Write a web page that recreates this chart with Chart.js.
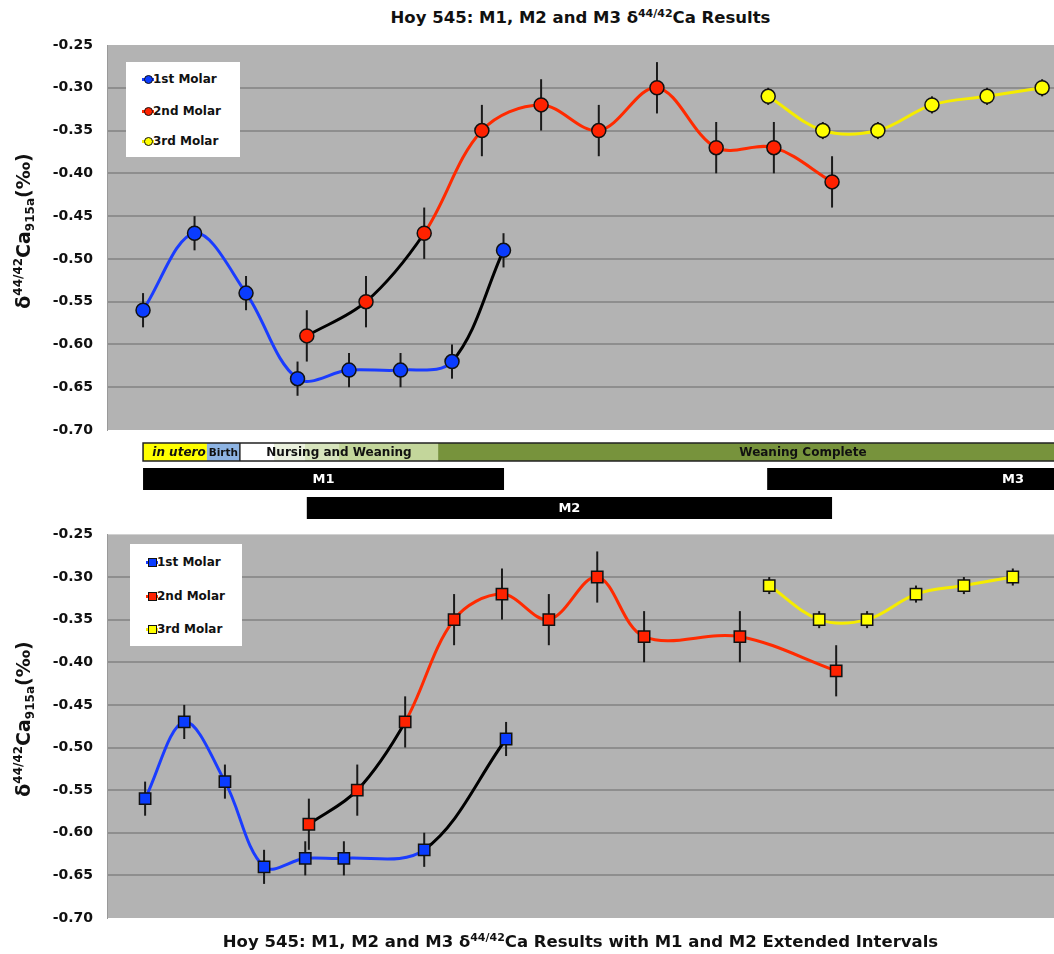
<!DOCTYPE html>
<html>
<head>
<meta charset="utf-8">
<script src="https://cdn.jsdelivr.net/npm/chart.js@4.4.0/dist/chart.umd.min.js"></script>
<style>
  body { margin: 0; background: #fff; }
  #wrap { position: relative; width: 1054px; height: 954px; overflow: hidden; font-family: "DejaVu Sans", sans-serif; color: #111; }
  canvas { position: absolute; left: 0; }
  #topChart { top: 0; }
  #bottomChart { top: 512px; }
  .title { position: absolute; left: 107px; width: 947px; text-align: center; font-family: "DejaVu Sans", sans-serif; font-weight: bold; font-size: 16.5px; line-height: 18px; }
  .title sup { font-size: 11px; vertical-align: 6px; line-height: 0; }
  .ytitle { position: absolute; transform: translate(-50%, -50%) rotate(-90deg); white-space: nowrap; font-weight: bold; font-size: 19px; }
  .ytitle sup { font-size: 12px; vertical-align: 8px; line-height: 0; }
  .ytitle sub { font-size: 12px; vertical-align: -4px; line-height: 0; }
  .legend { position: absolute; background: #fff; }
  .legend .item { position: absolute; left: 0; height: 16px; line-height: 16px; font-size: 12px; font-weight: bold; white-space: nowrap; }
  .legend .stub { position: absolute; top: 7px; height: 3px; width: 12px; }
  .legend .mark { position: absolute; top: 4px; width: 7px; height: 7px; border: 1px solid #111; }
</style>
</head>
<body>
<div id="wrap">
  <div class="title" style="top:9px">Hoy 545: M1, M2 and M3 δ<sup>44/42</sup>Ca Results</div>
  <canvas id="topChart" width="1054" height="522"></canvas>
  <canvas id="bottomChart" width="1054" height="442"></canvas>
  <div class="ytitle" style="left:23px; top:231px">δ<sup>44/42</sup>Ca<sub>915a</sub>(‰)</div>
  <div class="ytitle" style="left:23px; top:719px">δ<sup>44/42</sup>Ca<sub>915a</sub>(‰)</div>
  <div class="legend" id="topLegend" style="left:126px; top:62px; width:114px; height:95px"></div>
  <div class="legend" id="bottomLegend" style="left:130px; top:544px; width:112px; height:102px"></div>
  <div class="title" style="top:933px">Hoy 545: M1, M2 and M3 δ<sup>44/42</sup>Ca Results with M1 and M2 Extended Intervals</div>
</div>
<script>
// sample positions along the growth axis (1st molar samples are one unit apart)
const xMin = -0.7;
const xMax = 17.69;
const yTicks = [-0.70, -0.65, -0.60, -0.55, -0.50, -0.45, -0.40, -0.35, -0.30, -0.25];

const seriesNames = ["1st Molar", "2nd Molar", "3rd Molar"];

// δ44/42Ca values and 2SD error
const m1Ca = [-0.56, -0.47, -0.54, -0.64, -0.63, -0.63, -0.62, -0.49];
const m1Err = [0.02, 0.02, 0.02, 0.02, 0.02, 0.02, 0.02, 0.02];
const m2Ca = [-0.59, -0.55, -0.47, -0.35, -0.32, -0.35, -0.30, -0.37, -0.37, -0.41];
const m2Err = [0.03, 0.03, 0.03, 0.03, 0.03, 0.03, 0.03, 0.03, 0.03, 0.03];
const m3Ca = [-0.31, -0.35, -0.35, -0.32, -0.31, -0.30];
const m3Err = [0.01, 0.01, 0.01, 0.01, 0.01, 0.01];

// positions, original intervals
const m1Pos = [0, 1, 2, 3, 4, 5, 6, 7];
const m2Pos = [3.18, 4.33, 5.46, 6.58, 7.73, 8.85, 9.98, 11.13, 12.25, 13.38];
const m3Pos = [12.14, 13.20, 14.27, 15.32, 16.39, 17.46];

// positions, M1 and M2 extended intervals
const m1PosExt = [0.04, 0.80, 1.59, 2.35, 3.15, 3.90, 5.46, 7.05];
const m2PosExt = [3.22, 4.16, 5.09, 6.04, 6.97, 7.88, 8.82, 9.73, 11.59, 13.46];
const m3PosExt = [12.16, 13.13, 14.06, 15.01, 15.94, 16.89];

// life stages
const phaseNames = ["in utero", "Birth", "Nursing and Weaning", "Weaning Complete"];
const phaseStart = [0, 1.24, 1.88, 5.73];
const phaseEnd = [1.24, 1.88, 5.73, 19.9];

// tooth formation intervals
const toothNames = ["M1", "M2", "M3"];
const toothStart = [0, 3.18, 12.12];
const toothEnd = [7.01, 13.38, 21.67];
const toothRow = [0, 1, 0];

const colors = ["#1a3cff", "#ff2a00", "#f5ec00"];
const markerFill = ["#0a3cff", "#ff2200", "#ffff00"];
const phaseColors = ["#ffff00", "#8db3e2", null, "#77933c"];

const errors = [m1Err, m2Err, m3Err];

function points(pos, vals) {
  return pos.map((p, i) => ({ x: p, y: vals[i] }));
}

function makeDatasets(positions, pointStyle, radius) {
  const vals = [m1Ca, m2Ca, m3Ca];
  return positions.map((pos, k) => ({
    label: seriesNames[k],
    data: points(pos, vals[k]),
    borderColor: colors[k],
    backgroundColor: markerFill[k],
    pointBackgroundColor: markerFill[k],
    pointBorderColor: "#111",
    pointBorderWidth: 1.5,
    pointRadius: radius,
    pointStyle: pointStyle,
    borderWidth: 3,
    tension: 0.35,
    segment: {
      // the M1 / M2 overlap is joined in black
      borderColor: (ctx) => {
        if (k === 0 && ctx.p0DataIndex >= 6) return "#000";
        if (k === 1 && ctx.p1DataIndex <= 2) return "#000";
        return colors[k];
      },
    },
  }));
}

// grey plot area
const plotBackground = {
  id: "plotBackground",
  beforeDraw(chart) {
    const { ctx, chartArea: a } = chart;
    ctx.save();
    ctx.fillStyle = "#b3b3b3";
    ctx.fillRect(a.left, a.top, a.right - a.left, a.bottom - a.top);
    ctx.restore();
  },
};

// vertical error bars behind the markers
const errorBars = {
  id: "errorBars",
  beforeDatasetsDraw(chart) {
    const { ctx, scales: { x, y } } = chart;
    ctx.save();
    ctx.strokeStyle = "#1a1a1a";
    ctx.lineWidth = 2;
    chart.data.datasets.forEach((ds, k) => {
      ds.data.forEach((p, i) => {
        const px = x.getPixelForValue(p.x);
        ctx.beginPath();
        ctx.moveTo(px, y.getPixelForValue(p.y + errors[k][i]));
        ctx.lineTo(px, y.getPixelForValue(p.y - errors[k][i]));
        ctx.stroke();
      });
    });
    ctx.restore();
  },
};

// life stage strip and tooth formation bars under the top panel
const timeline = {
  id: "timeline",
  afterDraw(chart) {
    const { ctx, chartArea: a, scales: { x } } = chart;
    const px = (v) => Math.min(x.getPixelForValue(v), a.right);
    const stripTop = a.bottom + 13;
    const stripH = 18;
    ctx.save();

    phaseNames.forEach((name, i) => {
      const x0 = px(phaseStart[i]);
      const x1 = px(phaseEnd[i]);
      let fill = phaseColors[i];
      if (!fill) {
        fill = ctx.createLinearGradient(x0, 0, x1, 0);
        fill.addColorStop(0, "#ffffff");
        fill.addColorStop(0.17, "#ffffff");
        fill.addColorStop(0.17, "#ebf1de");
        fill.addColorStop(0.33, "#ebf1de");
        fill.addColorStop(0.33, "#d7e4bd");
        fill.addColorStop(0.5, "#d7e4bd");
        fill.addColorStop(0.5, "#c3d69b");
        fill.addColorStop(1, "#c3d69b");
      }
      ctx.fillStyle = fill;
      ctx.fillRect(x0, stripTop, x1 - x0, stripH);
    });

    ctx.strokeStyle = "#222";
    ctx.lineWidth = 1.5;
    const s0 = px(phaseStart[0]);
    ctx.strokeRect(s0, stripTop, a.right - s0 + 2, stripH);
    ctx.beginPath();
    ctx.moveTo(px(phaseStart[2]), stripTop);
    ctx.lineTo(px(phaseStart[2]), stripTop + stripH);
    ctx.stroke();

    ctx.fillStyle = "#111";
    ctx.textAlign = "center";
    ctx.textBaseline = "middle";
    phaseNames.forEach((name, i) => {
      const cx = (x.getPixelForValue(phaseStart[i]) + x.getPixelForValue(phaseEnd[i])) / 2;
      if (i === 0) ctx.font = "italic bold 12px 'DejaVu Sans'";
      else if (i === 1) ctx.font = "bold 10.5px 'DejaVu Sans'";
      else ctx.font = "bold 12px 'DejaVu Sans'";
      ctx.fillText(name, cx + (i === 0 ? 4 : 0), stripTop + stripH / 2 + 1);
    });

    const rowTop = [a.bottom + 38, a.bottom + 67];
    const rowH = 22;
    toothNames.forEach((name, i) => {
      const x0 = px(toothStart[i]);
      const x1 = px(toothEnd[i]);
      const top = rowTop[toothRow[i]];
      ctx.fillStyle = "#000";
      ctx.fillRect(x0, top, x1 - x0, rowH);
      ctx.fillStyle = "#fff";
      ctx.font = "bold 13px 'DejaVu Sans'";
      const cx = (x.getPixelForValue(toothStart[i]) + x.getPixelForValue(toothEnd[i])) / 2;
      ctx.fillText(name, cx, top + rowH / 2 + 1);
    });
    ctx.restore();
  },
};

function chartOptions(padTop, padBottom) {
  return {
    responsive: false,
    animation: false,
    layout: { autoPadding: false, padding: { top: padTop, bottom: padBottom, left: 0, right: 0 } },
    plugins: { legend: { display: false }, tooltip: { enabled: false } },
    scales: {
      x: { type: "linear", display: false, min: xMin, max: xMax },
      y: {
        min: yTicks[0],
        max: yTicks[yTicks.length - 1],
        afterFit: (scale) => { scale.width = 107; },
        afterBuildTicks: (scale) => { scale.ticks = yTicks.map((v) => ({ value: v })); },
        border: { display: true, color: "#999", width: 1 },
        grid: {
          drawTicks: false,
          lineWidth: 2,
          color: (ctx) => (ctx.index === 0 || ctx.index === yTicks.length - 1 ? "rgba(0,0,0,0)" : "#8e8e8e"),
        },
        ticks: {
          padding: 14,
          color: "#111",
          font: { family: "DejaVu Sans", weight: "bold", size: 14 },
          callback: (v) => v.toFixed(2),
        },
      },
    },
  };
}

new Chart(document.getElementById("topChart"), {
  type: "line",
  data: { datasets: makeDatasets([m1Pos, m2Pos, m3Pos], "circle", 7) },
  options: chartOptions(45, 92),
  plugins: [plotBackground, errorBars, timeline],
});

new Chart(document.getElementById("bottomChart"), {
  type: "line",
  data: { datasets: makeDatasets([m1PosExt, m2PosExt, m3PosExt], "rect", 8) },
  options: chartOptions(14, 36),
  plugins: [plotBackground, errorBars],
});

// legend boxes
function buildLegend(id, round, rowYs) {
  const box = document.getElementById(id);
  seriesNames.forEach((name, k) => {
    const item = document.createElement("div");
    item.className = "item";
    item.style.top = rowYs[k] - 8 + "px";
    item.innerHTML =
      '<span class="stub" style="left:16px;background:' + colors[k] + '"></span>' +
      '<span class="mark" style="left:18px;background:' + markerFill[k] + ';border-radius:' + (round ? "50%" : "0") + '"></span>' +
      '<span style="position:absolute;left:27px">' + name + "</span>";
    box.appendChild(item);
  });
}
buildLegend("topLegend", true, [17, 49, 79]);
buildLegend("bottomLegend", false, [18, 52, 85]);
</script>
</body>
</html>
